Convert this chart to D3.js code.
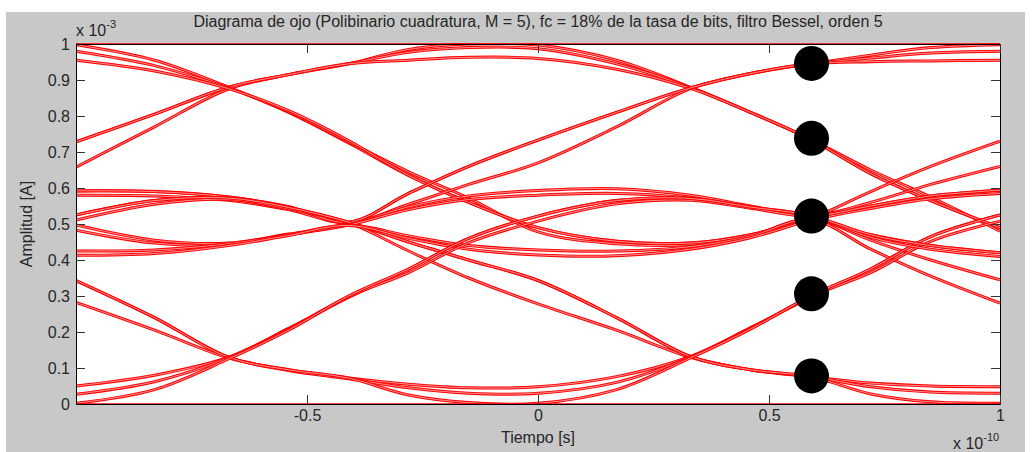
<!DOCTYPE html>
<html lang="es">
<head>
<meta charset="UTF-8">
<title>Diagrama de ojo</title>
<script src="https://d3js.org/d3.v7.min.js"></script>
<style>
  body { margin: 0; background: #fff; }
  svg { display: block; }
  text { font-family: "Liberation Sans", Arial, sans-serif; fill: #262626; }
</style>
</head>
<body>
<svg width="1032" height="452"></svg>
<script>
// time (x 1e-10 s) where each piece of a trace was read
const tailX   = [-1, -0.83, -0.67, -0.54, -0.41];
const centerX = [-0.41, -0.28, -0.15, 0, 0.17, 0.33, 0.46, 0.59];
const headX   = [0.59, 0.72, 0.85, 1];

// left tails (x 1e-3 A), ending on the first sampling instant
const topT1   = [0.998, 0.955, 0.88, 0.81, 0.725];
const topT2   = [0.98, 0.94, 0.878, 0.812, 0.728];
const topT3   = [0.955, 0.925, 0.876, 0.815, 0.732];
const riseT1  = [0.728, 0.805, 0.88, 0.915, 0.945];
const riseT2  = [0.658, 0.77, 0.875, 0.915, 0.945];
const upT1    = [0.592, 0.59, 0.575, 0.548, 0.505];
const upT2    = [0.58, 0.578, 0.566, 0.54, 0.503];
const innUpT1 = [0.525, 0.565, 0.572, 0.546, 0.505];
const innUpT2 = [0.511, 0.555, 0.568, 0.542, 0.503];
const innLoT1 = [0.497, 0.455, 0.447, 0.472, 0.498];
const innLoT2 = [0.483, 0.447, 0.443, 0.47, 0.497];
const loT1    = [0.425, 0.428, 0.445, 0.47, 0.497];
const loT2    = [0.413, 0.418, 0.44, 0.468, 0.496];
const fallT1  = [0.343, 0.24, 0.13, 0.095, 0.072];
const fallT2  = [0.282, 0.205, 0.128, 0.093, 0.07];
const botT1   = [0.05, 0.08, 0.13, 0.21, 0.296];
const botT2   = [0.027, 0.062, 0.128, 0.208, 0.298];
const botT3   = [0.002, 0.04, 0.125, 0.205, 0.3];

// one whole symbol period, between the two sampling instants
const arcA1   = [0.95, 0.985, 1.0, 0.997, 0.955, 0.88, 0.81, 0.735];
const arcA2   = [0.948, 0.977, 0.99, 0.987, 0.945, 0.879, 0.81, 0.735];
const arcA3   = [0.94, 0.955, 0.963, 0.96, 0.93, 0.877, 0.81, 0.735];
const rise1   = [0.505, 0.585, 0.66, 0.733, 0.81, 0.878, 0.918, 0.945];
const rise2   = [0.503, 0.555, 0.61, 0.67, 0.77, 0.876, 0.918, 0.945];
const fall1   = [0.497, 0.45, 0.4, 0.343, 0.24, 0.132, 0.095, 0.076];
const fall2   = [0.495, 0.425, 0.35, 0.278, 0.205, 0.13, 0.095, 0.076];
const outUp1  = [0.505, 0.548, 0.578, 0.593, 0.598, 0.58, 0.55, 0.523];
const outUp2  = [0.503, 0.54, 0.568, 0.58, 0.585, 0.572, 0.545, 0.522];
const innUp1  = [0.296, 0.375, 0.46, 0.522, 0.565, 0.571, 0.547, 0.523];
const innUp2  = [0.3, 0.365, 0.448, 0.508, 0.556, 0.566, 0.544, 0.522];
const innLo1  = [0.728, 0.635, 0.56, 0.49, 0.452, 0.447, 0.47, 0.515];
const innLo2  = [0.732, 0.645, 0.572, 0.478, 0.445, 0.443, 0.468, 0.514];
const outLo1  = [0.497, 0.467, 0.44, 0.428, 0.425, 0.437, 0.466, 0.512];
const outLo2  = [0.495, 0.46, 0.43, 0.414, 0.412, 0.43, 0.462, 0.51];
const botArc1 = [0.072, 0.055, 0.045, 0.048, 0.076, 0.132, 0.212, 0.296];
const botArc2 = [0.07, 0.045, 0.03, 0.03, 0.06, 0.13, 0.21, 0.298];
const botArc3 = [0.068, 0.025, 0.004, 0.002, 0.04, 0.128, 0.208, 0.3];

// right heads, starting on the second sampling instant
const headTop1 = [0.945, 0.969, 0.99, 0.998];
const headTop2 = [0.945, 0.961, 0.975, 0.98];
const headTop3 = [0.945, 0.951, 0.953, 0.955];
const headIL1  = [0.735, 0.64, 0.565, 0.49];
const headIL2  = [0.738, 0.65, 0.575, 0.48];
const headIU1  = [0.306, 0.375, 0.465, 0.525];
const headIU2  = [0.306, 0.365, 0.452, 0.508];
const headOU1  = [0.523, 0.55, 0.578, 0.594];
const headOU2  = [0.522, 0.543, 0.57, 0.585];
const headOL1  = [0.513, 0.47, 0.44, 0.42];
const headOL2  = [0.51, 0.463, 0.43, 0.41];
const headR1   = [0.52, 0.59, 0.66, 0.73];
const headR2   = [0.518, 0.56, 0.61, 0.66];
const headF1   = [0.515, 0.455, 0.4, 0.345];
const headF2   = [0.513, 0.43, 0.355, 0.28];
const headB1   = [0.078, 0.058, 0.05, 0.048];
const headB2   = [0.076, 0.048, 0.033, 0.03];
const headB3   = [0.074, 0.028, 0.006, 0.002];

// each trace of the eye: tail + period + head
const traces = [
  [riseT1, arcA1, headIL1], [riseT2, arcA2, headIL2], [riseT1, arcA3, headIL1],
  [topT1, innLo1, headOU1], [topT2, innLo2, headOL1], [topT3, innLo1, headR1],
  [upT1, rise1, headTop1], [upT2, rise2, headTop2], [upT1, rise1, headTop3],
  [innUpT1, fall1, headB1], [innUpT2, fall2, headB2], [innUpT1, fall1, headB3],
  [innLoT1, outUp1, headR2], [innLoT2, outUp2, headF1],
  [loT1, outLo1, headF2], [loT2, outLo2, headOU2],
  [fallT1, botArc1, headIU1], [fallT2, botArc2, headIU2], [fallT1, botArc3, headIU1],
  [botT1, innUp1, headOL2], [botT2, innUp2, headOU1], [botT3, innUp1, headOL1]
];
// flat traces lying on the limits
const flatX = [-1, 1];
const flatTop = [1, 1];
const flatBottom = [0, 0];

// decision points
const sampleX = 0.592;
const sampleLevels = [0.946, 0.738, 0.522, 0.306, 0.078];

const xTicks = [-0.5, 0, 0.5, 1];
const yTicks = [0, 0.1, 0.2, 0.3, 0.4, 0.5, 0.6, 0.7, 0.8, 0.9, 1];

const svg = d3.select("svg");
const pLeft = 76, pRight = 1000, pTop = 44, pBottom = 404;

svg.append("rect").attr("x", 6).attr("y", 12).attr("width", 1019).attr("height", 440)
   .attr("fill", "#c8c8c8");
svg.append("rect").attr("x", pLeft).attr("y", pTop).attr("width", pRight - pLeft).attr("height", pBottom - pTop)
   .attr("fill", "#fff");

const x = d3.scaleLinear().domain([-1, 1]).range([pLeft, pRight]);
const y = d3.scaleLinear().domain([0, 1]).range([pBottom, pTop]);

svg.append("defs").append("clipPath").attr("id", "clip")
   .append("rect").attr("x", pLeft).attr("y", pTop - 1).attr("width", pRight - pLeft).attr("height", pBottom - pTop + 2);

const line = d3.line()
  .x(d => x(d[0]))
  .y(d => y(d[1]))
  .curve(d3.curveCatmullRom.alpha(0.5));

const plot = svg.append("g").attr("clip-path", "url(#clip)");

function tracePoints(t) {
  const pts = tailX.map((v, i) => [v, t[0][i]]);
  centerX.forEach((v, i) => { if (i > 0) pts.push([v, t[1][i]]); });
  headX.forEach((v, i) => { if (i > 0) pts.push([v, t[2][i]]); });
  return pts;
}

function drawTrace(pts) {
  plot.append("path").attr("d", line(pts))
      .attr("fill", "none").attr("stroke", "#ff0000").attr("stroke-width", 3);
  plot.append("path").attr("d", line(pts))
      .attr("fill", "none").attr("stroke", "#fff").attr("stroke-opacity", 0.7).attr("stroke-width", 0.8);
}

traces.forEach(t => drawTrace(tracePoints(t)));

// axes box and ticks
const fmt = d => String(+d.toFixed(1));
const axes = svg.append("g");

axes.append("g").attr("transform", `translate(${pLeft},0)`)
    .call(d3.axisLeft(y).tickValues(yTicks).tickSize(-9).tickSizeOuter(0).tickPadding(6).tickFormat(fmt));
axes.append("g").attr("transform", `translate(${pRight},0)`)
    .call(d3.axisRight(y).tickValues(yTicks).tickSize(-9).tickSizeOuter(0).tickFormat(""));
axes.append("g").attr("transform", `translate(0,${pBottom})`)
    .call(d3.axisBottom(x).tickValues(xTicks).tickSize(-9).tickSizeOuter(0).tickPadding(6).tickFormat(fmt));
axes.append("g").attr("transform", `translate(0,${pTop})`)
    .call(d3.axisTop(x).tickValues(xTicks).tickSize(-9).tickSizeOuter(0).tickFormat(""));

axes.selectAll("g").attr("font-size", 16).attr("font-family", "'Liberation Sans', Arial, sans-serif");
axes.selectAll(".domain").attr("stroke", "#000");
axes.selectAll(".tick line").attr("stroke", "#333");
axes.selectAll(".tick text").attr("fill", "#262626");

// flat traces on the limits, drawn over the box
plot.append("path").attr("d", line(flatX.map((v, i) => [v, flatTop[i]])))
    .attr("fill", "none").attr("stroke", "#ff0000").attr("stroke-width", 1.5);
plot.append("path").attr("d", line(flatX.map((v, i) => [v, flatBottom[i]])))
    .attr("fill", "none").attr("stroke", "#ff0000").attr("stroke-width", 1.5);

// decision points
svg.selectAll(".sample").data(sampleLevels).enter().append("circle")
   .attr("class", "sample")
   .attr("cx", x(sampleX)).attr("cy", d => y(d)).attr("r", 17.5)
   .attr("fill", "#000");

// texts
svg.append("text").attr("x", 538).attr("y", 27).attr("text-anchor", "middle").style("font-size", "16px")
   .text("Diagrama de ojo (Polibinario cuadratura, M = 5), fc = 18% de la tasa de bits, filtro Bessel, orden 5");
svg.append("text").attr("x", 538).attr("y", 443).attr("text-anchor", "middle").style("font-size", "16px")
   .text("Tiempo [s]");
svg.append("text").attr("transform", "translate(32,224) rotate(-90)").attr("text-anchor", "middle")
   .style("font-size", "16px").text("Amplitud [A]");

const e1 = svg.append("text").attr("x", 76).attr("y", 36).style("font-size", "16px");
e1.append("tspan").text("x 10");
e1.append("tspan").attr("dy", -8).style("font-size", "11px").text("-3");
const e2 = svg.append("text").attr("x", 953).attr("y", 449).style("font-size", "16px");
e2.append("tspan").text("x 10");
e2.append("tspan").attr("dy", -8).style("font-size", "11px").text("-10");
</script>
</body>
</html>
